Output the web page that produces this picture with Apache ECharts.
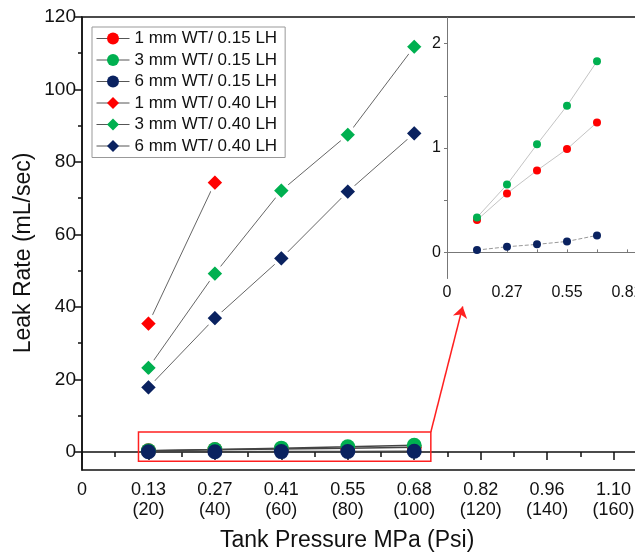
<!DOCTYPE html>
<html>
<head>
<meta charset="utf-8">
<script src="https://cdn.jsdelivr.net/npm/echarts@6/dist/echarts.min.js"></script>
<style>
html, body { margin: 0; padding: 0; background: #fff; }
#chart { width: 635px; height: 560px; }
</style>
</head>
<body>
<div id="chart"></div>
<script>
// pressure in psi (x positions), MPa labels for the ticks
var psi = [20, 40, 60, 80, 100];
var mpaLabels = ['0', '0.13', '0.27', '0.41', '0.55', '0.68', '0.82', '0.96', '1.10']; // 0..160 psi step 20
var insetLabels = ['0', '0.27', '0.55', '0.82']; // 0..120 psi step 40

var names = [
    '1 mm WT/ 0.15 LH', '3 mm WT/ 0.15 LH', '6 mm WT/ 0.15 LH',
    '1 mm WT/ 0.40 LH', '3 mm WT/ 0.40 LH', '6 mm WT/ 0.40 LH'
];
var colors = ['#ff0000', '#00b050', '#0a2260'];

// leak rate mL/sec
var lh015_1mm = [0.31, 0.565, 0.785, 0.99, 1.245];
var lh015_3mm = [0.335, 0.65, 1.035, 1.405, 1.83];
var lh015_6mm = [0.022, 0.054, 0.077, 0.105, 0.163];
var lh040_1mm = [35.4, 74.3];
var lh040_3mm = [23.2, 49.2, 72.1, 87.5, 111.8];
var lh040_6mm = [17.8, 36.9, 53.4, 71.8, 87.9];

// zoom box and arrow (data coords of main plot)
var zoomBox = [[17, 5.5], [105, -2.6]];
var arrowLine = [[105, 5.5], [114.6, 40.1]];

var yMajor = [0, 20, 40, 60, 80, 100, 120];
var yMinor = [10, 30, 50, 70, 90, 110];

var font = 'Liberation Sans';

function pairs(vals) {
    return vals.map(function (v, i) { return [psi[i], v]; });
}

var myChart = echarts.init(document.getElementById('chart'));

function circleSeries(idx, vals) {
    return {
        name: names[idx], type: 'line', xAxisIndex: 0, yAxisIndex: 0,
        data: pairs(vals), symbol: 'circle', symbolSize: 15,
        itemStyle: { color: colors[idx] },
        lineStyle: { color: '#444', width: 1.5 },
        z: 3
    };
}
function diamondSeries(idx, vals) {
    return {
        name: names[idx + 3], type: 'line', xAxisIndex: 0, yAxisIndex: 0,
        data: pairs(vals), symbol: 'diamond', symbolSize: 20,
        itemStyle: { color: colors[idx], borderColor: '#fff', borderWidth: 4 },
        lineStyle: { color: '#666', width: 1 },
        z: 4
    };
}
function insetSeries(idx, vals) {
    return {
        name: names[idx], type: 'line', xAxisIndex: 1, yAxisIndex: 2,
        data: pairs(vals), symbol: 'circle', symbolSize: 8,
        itemStyle: { color: colors[idx] },
        lineStyle: { color: idx == 2 ? '#999' : '#c4c4c4', width: 1, type: idx == 2 ? 'dashed' : 'solid' },
        z: 5
    };
}

var redBox = circleSeries(0, lh015_1mm);
redBox.markArea = {
    silent: true,
    itemStyle: { color: 'rgba(0,0,0,0)', borderColor: '#ff2020', borderWidth: 1.5 },
    data: [[{ coord: zoomBox[0] }, { coord: zoomBox[1] }]]
};
redBox.markLine = {
    silent: true,
    symbol: ['none', 'arrow'],
    symbolSize: 11,
    label: { show: false },
    lineStyle: { color: '#ff2020', width: 1.5, type: 'solid' },
    data: [[
        { coord: arrowLine[0], symbol: 'none' },
        { coord: arrowLine[1], symbol: 'arrow', symbolSize: 11 }
    ]]
};

option = {
    animation: false,
    backgroundColor: '#fff',
    textStyle: { fontFamily: font },
    title: {
        text: 'Tank Pressure MPa (Psi)',
        left: 220, top: 529, padding: 0,
        textStyle: { fontFamily: font, fontSize: 23, fontWeight: 'normal', color: '#111' }
    },
    graphic: [{
        type: 'text', x: 24, y: 253, rotation: Math.PI / 2,
        style: {
            text: 'Leak Rate (mL/sec)', font: '23px "Liberation Sans"',
            fill: '#111', align: 'center', verticalAlign: 'middle'
        }
    }],
    legend: {
        orient: 'vertical', left: 92, top: 27,
        data: names,
        borderColor: '#999', borderWidth: 1,
        padding: [3, 8, 3, 4],
        itemWidth: 33, itemHeight: 15, itemGap: 4.5,
        itemStyle: { borderWidth: 0 },
        lineStyle: { color: '#555', width: 1, type: 'solid' },
        textStyle: { fontFamily: font, fontSize: 17, color: '#111' }
    },
    grid: [
        { left: 82, top: 17, width: 598, height: 453, outerBoundsMode: 'none', containLabel: false,
          show: true, borderColor: '#111', borderWidth: 1.5, backgroundColor: 'transparent' },
        { left: 447, top: 17.5, width: 210, height: 261, outerBoundsMode: 'none', containLabel: false }
    ],
    xAxis: [{
        gridIndex: 0, type: 'value', min: 0, max: 180, interval: 20,
        axisLine: { lineStyle: { color: '#111', width: 1.5 } },
        axisTick: { length: 8, lineStyle: { color: '#111', width: 1.5 } },
        minorTick: { show: true, splitNumber: 2, length: 5, lineStyle: { color: '#111', width: 1.5 } },
        splitLine: { show: false },
        axisLabel: {
            fontFamily: font, fontSize: 18, color: '#111', margin: 10, lineHeight: 20,
            formatter: function (v) {
                if (v % 20 !== 0 || v > 160) return '';
                if (v === 0) return '0';
                return mpaLabels[v / 20] + '\n(' + v + ')';
            }
        }
    }, {
        gridIndex: 1, type: 'value', min: 0, max: 140, interval: 20,
        axisLine: { lineStyle: { color: '#777', width: 1 } },
        axisTick: { length: 3, inside: true, lineStyle: { color: '#777' } },
        splitLine: { show: false },
        axisLabel: {
            fontFamily: font, fontSize: 16, color: '#111', margin: 6,
            formatter: function (v) {
                if (v % 40 !== 0 || v > 120) return '';
                return insetLabels[v / 40];
            }
        }
    }],
    yAxis: [{
        gridIndex: 0, type: 'value', min: -5, max: 120, position: 'left',
        axisLine: { show: true, lineStyle: { color: '#111', width: 1.5 } },
        axisTick: { show: true, length: 8, customValues: yMajor, lineStyle: { color: '#111', width: 1.5 } },
        splitLine: { show: false },
        axisLabel: { fontFamily: font, fontSize: 19, color: '#111', margin: 6, customValues: yMajor }
    }, {
        gridIndex: 0, type: 'value', min: -5, max: 120, position: 'left',
        axisLine: { show: false },
        axisTick: { show: true, length: 4, customValues: yMinor, lineStyle: { color: '#111', width: 1.5 } },
        splitLine: { show: false },
        axisLabel: { show: false }
    }, {
        gridIndex: 1, type: 'value', min: -0.25, max: 2.25,
        axisLine: { show: true, lineStyle: { color: '#777', width: 1 } },
        axisTick: { show: true, length: 3, customValues: [0, 0.5, 1, 1.5, 2], lineStyle: { color: '#777' } },
        splitLine: { show: false },
        axisLabel: { fontFamily: font, fontSize: 16, color: '#111', margin: 6, customValues: [0, 1, 2] }
    }],
    series: [
        redBox,
        circleSeries(1, lh015_3mm),
        circleSeries(2, lh015_6mm),
        diamondSeries(0, lh040_1mm),
        diamondSeries(1, lh040_3mm),
        diamondSeries(2, lh040_6mm),
        insetSeries(0, lh015_1mm),
        insetSeries(1, lh015_3mm),
        insetSeries(2, lh015_6mm)
    ]
};
myChart.setOption(option);
</script>
</body>
</html>
